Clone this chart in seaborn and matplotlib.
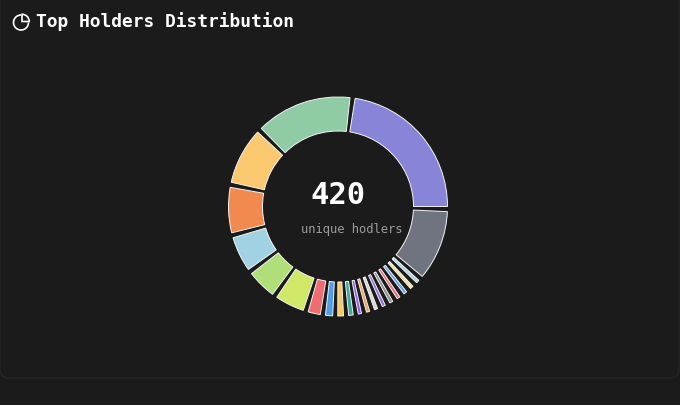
import matplotlib.pyplot as plt
from matplotlib.patches import Arc, FancyBboxPatch, Wedge
import seaborn as sns

# Ring slices, clockwise from the purple one
holder_shares = [81, 37, 1.7, 1.7, 1.7, 1.7, 1.7, 1.7, 1.7, 1.7, 1.7, 2.4, 3, 3.8, 6.5, 15.5, 15.5, 18.5, 24, 30, 50.8]
holder_colors = ['#8884d8', '#6f7480', '#a8d8e8', '#f5e0a0', '#60a5e8', '#ef6f78',
                 '#8a9088', '#8b6fe0', '#d8d8d0', '#f2a060', '#8b5cf6', '#3fa89a',
                 '#f8c860', '#4f9fe8', '#f06c70', '#d0e868', '#b0de78', '#a0d2e4',
                 '#f28a50', '#fac86e', '#8fcba4']
gap_share = 2.7
first_slice_start = 9

title_text = 'Top Holders Distribution'
total_text = '420'
total_label = 'unique hodlers'

BG = '#1b1b1b'

sns.set_theme(style='dark', rc={'figure.facecolor': BG, 'axes.facecolor': BG})
plt.rcParams['font.family'] = ['DejaVu Sans Mono']

fig = plt.figure(figsize=(6.8, 4.05), dpi=100)

# Background layer in pixel units, for the card, header and centre text
bg = fig.add_axes([0, 0, 1, 1])
bg.set_xlim(0, 680)
bg.set_ylim(405, 0)
bg.axis('off')

card = FancyBboxPatch((0, -40), 679, 418, boxstyle='round,pad=0,rounding_size=9',
                      facecolor=BG, edgecolor='#252525', linewidth=1)
bg.add_patch(card)

# Pie icon next to the title
bg.add_patch(Arc((21, 22.5), 15, 15, theta1=0, theta2=270, color='white', linewidth=1.2))
bg.add_patch(Wedge((22, 21.5), 7.2, 270, 360, facecolor='none', edgecolor='white', linewidth=1.2))

bg.text(36, 21.5, title_text, color='white', fontsize=12.9, fontweight='bold', va='center', ha='left')
bg.text(338, 195, total_text, color='white', fontsize=22, fontweight='bold', va='center', ha='center')
bg.text(352, 230, total_label, color='#9b9b9b', fontsize=8.7, va='center', ha='center')

# Ring, with an invisible spacer wedge after every slice
ring = fig.add_axes([228.5 / 680, 1 - 316 / 405, 219 / 680, 219 / 405])
ring.patch.set_alpha(0)

values = []
colors = []
for share, color in zip(holder_shares, holder_colors):
    values += [share, gap_share]
    colors += [color, BG]

wedges, _ = ring.pie(values, colors=colors, startangle=90 - first_slice_start, counterclock=False,
                     radius=1, wedgeprops={'width': 34 / 109.5, 'edgecolor': '#f4f4f4', 'linewidth': 0.7})
for gap_wedge in wedges[1::2]:
    gap_wedge.set_visible(False)
ring.set_xlim(-1, 1)
ring.set_ylim(-1, 1)

fig.savefig('out.png', dpi=100, facecolor=BG)
plt.close(fig)
